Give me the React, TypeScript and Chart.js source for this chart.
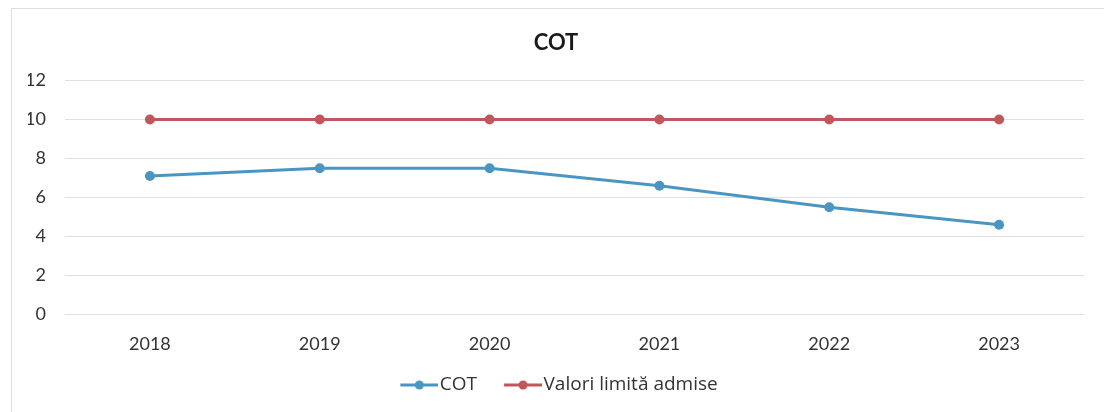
import React, { useEffect, useRef } from "react";
import { Chart, registerables } from "chart.js";

Chart.register(...registerables);

const years = ["2018", "2019", "2020", "2021", "2022", "2023"];
const cotValues = [7.1, 7.5, 7.5, 6.6, 5.5, 4.6];
const limitValues = [10, 10, 10, 10, 10, 10];
const yTicks = [0, 2, 4, 6, 8, 10, 12];

const BLUE = "#4a96c2";
const RED = "#c0575c";
const FONT = "Lato, 'Open Sans', sans-serif";
const LEGEND_FONT = "'Open Sans', Lato, sans-serif";

function legendIcon(color: string): HTMLCanvasElement {
  const c = document.createElement("canvas");
  c.width = 52;
  c.height = 12;
  const ctx = c.getContext("2d")!;
  ctx.strokeStyle = color;
  ctx.lineWidth = 3;
  ctx.beginPath();
  ctx.moveTo(14, 6);
  ctx.lineTo(52, 6);
  ctx.stroke();
  ctx.fillStyle = color;
  ctx.beginPath();
  ctx.arc(33, 6, 4.5, 0, Math.PI * 2);
  ctx.fill();
  return c;
}

export default function App() {
  const ref = useRef<HTMLCanvasElement>(null);
  useEffect(() => {
    if (!ref.current) return;
    const icons = [legendIcon(BLUE), legendIcon(RED)];
    const chart = new Chart(ref.current, {
      type: "line",
      data: {
        labels: years,
        datasets: [
          {
            label: "COT",
            data: cotValues,
            borderColor: BLUE,
            backgroundColor: BLUE,
            borderWidth: 3,
            pointRadius: 5,
            pointBackgroundColor: BLUE,
            pointBorderWidth: 0,
          },
          {
            label: "Valori limită admise",
            data: limitValues,
            borderColor: RED,
            backgroundColor: RED,
            borderWidth: 3,
            pointRadius: 5,
            pointBackgroundColor: RED,
            pointBorderWidth: 0,
          },
        ],
      },
      options: {
        responsive: false,
        animation: false,
        layout: { padding: { left: 16, right: 20, top: 14, bottom: 6.5 } },
        elements: { point: { pointStyle: "circle" } },
        plugins: {
          title: {
            display: true,
            text: "COT",
            color: "#1a1a1a",
            font: { family: FONT, size: 22, weight: "bold", lineHeight: 1.2 },
            padding: { top: 7, bottom: 24 },
          },
          legend: {
            position: "bottom",
            labels: {
              usePointStyle: true,
              pointStyleWidth: 36,
              color: "#333",
              font: { family: LEGEND_FONT, size: 19 },
              padding: 21,
              generateLabels: (ch: any) =>
                ch.data.datasets.map((ds: any, i: number) => ({
                  text: ds.label,
                  pointStyle: icons[i],
                  fillStyle: ds.borderColor,
                  strokeStyle: ds.borderColor,
                  lineWidth: 0,
                  hidden: false,
                  datasetIndex: i,
                  fontColor: "#333",
                })),
            },
          },
          tooltip: { enabled: false },
        },
        scales: {
          x: {
            offset: true,
            grid: { display: false },
            border: { display: false },
            ticks: {
              color: "#333",
              font: { family: FONT, size: 18 },
              padding: 11,
            },
            afterFit: (axis: any) => {
              axis.height = 40;
            },
          },
          y: {
            min: 0,
            max: 12,
            afterBuildTicks: (axis: any) => {
              axis.ticks = yTicks.map((v) => ({ value: v }));
            },
            afterFit: (axis: any) => {
              axis.width = 37;
            },
            grid: { color: "#e0e0e0", lineWidth: 1, drawTicks: false },
            border: { display: false },
            ticks: {
              color: "#333",
              font: { family: FONT, size: 18 },
              padding: 19,
            },
          },
        },
      },
    } as any);
    return () => chart.destroy();
  }, []);

  return (
    <div
      style={{
        position: "absolute",
        left: 11,
        top: 8,
        width: 1100,
        height: 410,
        border: "1px solid #dedede",
        boxSizing: "border-box",
        background: "#fff",
      }}
    >
      <canvas ref={ref} width={1092} height={402} style={{ display: "block" }} />
    </div>
  );
}
